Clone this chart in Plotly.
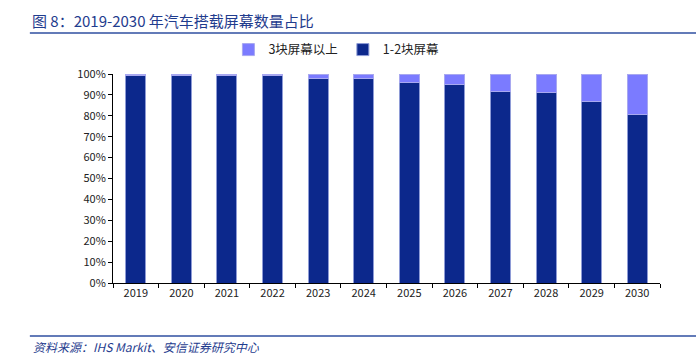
import plotly.graph_objects as go

years = ["2019", "2020", "2021", "2022", "2023", "2024", "2025", "2026", "2027", "2028", "2029", "2030"]
one_two = [0.993, 0.993, 0.993, 0.993, 0.979, 0.979, 0.957, 0.952, 0.917, 0.91, 0.87, 0.808]
three_plus = [round(1 - v, 3) for v in one_two]

DARK = "#0C288C"
LIGHT = "#7B7BFF"
BLUE_TXT = "#1F3C8E"
FONT = "Noto Sans CJK SC, Noto Sans, sans-serif"

fig = go.Figure()
fig.add_trace(go.Bar(x=years, y=one_two, name="1-2块屏幕",
                     marker=dict(color=DARK, line=dict(color="#8E9BD6", width=1))))
fig.add_trace(go.Bar(x=years, y=three_plus, name="3块屏幕以上",
                     marker=dict(color=LIGHT, line=dict(color="#A8A8F0", width=1))))

fig.update_layout(
    width=696, height=358,
    barmode="stack", bargap=0.56,
    paper_bgcolor="white", plot_bgcolor="white",
    margin=dict(l=113, r=36, t=74, b=75),
    font=dict(family=FONT, size=11, color="#222222"),
    showlegend=True,
    legend=dict(orientation="h", traceorder="reversed", x=0.211, y=1.115,
                xanchor="left", yanchor="middle",
                font=dict(size=12.5, color="#222222"), itemwidth=30,
                bgcolor="rgba(0,0,0,0)"),
)
fig.update_xaxes(showline=True, linecolor="black", linewidth=1,
                 ticks="outside", ticklen=4, tickcolor="black",
                 tickson="boundaries", showgrid=False,
                 tickfont=dict(size=11, color="#222222"))
fig.update_yaxes(range=[0, 1], dtick=0.1, tickformat=".0%",
                 showline=True, linecolor="black", linewidth=1,
                 ticks="outside", ticklen=4, tickcolor="black",
                 showgrid=False, zeroline=False,
                 tickfont=dict(size=11, color="#222222"))

fig.add_annotation(text="图 8：2019-2030 年汽车搭载屏幕数量占比", xref="paper", yref="paper",
                   x=-0.152, y=1.258, xanchor="left", yanchor="middle", showarrow=False,
                   font=dict(size=15, color=BLUE_TXT, family=FONT))
fig.add_shape(type="line", xref="paper", yref="paper", x0=-0.152, x1=1.07, y0=1.196, y1=1.196,
              line=dict(color="#2F4FA0", width=1.5))
fig.add_shape(type="line", xref="paper", yref="paper", x0=-0.152, x1=1.07, y0=-0.254, y1=-0.254,
              line=dict(color="#2F4FA0", width=1.5))
fig.add_annotation(text="<i>资料来源：IHS Markit、安信证券研究中心</i>", xref="paper", yref="paper",
                   x=-0.15, y=-0.305, xanchor="left", yanchor="middle", showarrow=False,
                   font=dict(size=12, color=BLUE_TXT, family=FONT))

fig.write_html("out.html", config={"displayModeBar": False},
               post_script="document.body.style.margin='0';document.body.style.overflow='hidden';")
